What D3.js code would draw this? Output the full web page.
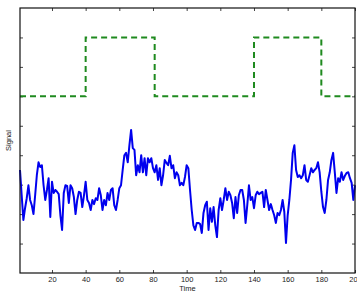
<!DOCTYPE html>
<html>
<head>
<meta charset="utf-8">
<script src="https://cdn.jsdelivr.net/npm/d3@7"></script>
<style>
  body { margin: 0; background: #fff; }
  svg { display: block; font-family: "Liberation Sans", Arial, sans-serif; }
  .tick text { fill: #222; font-size: 7.5px; }
</style>
</head>
<body>
<div id="chart"></div>
<script>
// blue noisy signal, one value per time step (t = 1..200)
var signal = [
  1.75, 1.32, 0.90, 1.10, 1.27, 1.49, 1.24, 1.15, 1.00, 1.32,
  1.66, 1.88, 1.80, 1.83, 1.49, 1.24, 1.41, 1.61, 0.95, 1.55,
  1.36, 1.41, 1.38, 1.34, 0.98, 0.73, 1.36, 1.49, 1.48, 1.19,
  1.49, 1.44, 1.29, 1.00, 1.24, 1.38, 1.36, 1.12, 1.32, 1.55,
  1.24, 1.19, 1.07, 1.24, 1.17, 1.27, 1.24, 1.44, 1.32, 1.07,
  1.24, 1.15, 1.36, 1.24, 1.41, 1.44, 1.15, 1.07, 1.24, 1.44,
  1.49, 1.75, 2.00, 2.04, 1.88, 2.17, 2.43, 2.12, 2.09, 1.66,
  1.83, 1.71, 2.00, 1.71, 1.95, 1.66, 1.95, 1.88, 1.95, 1.78,
  1.71, 1.83, 1.58, 1.78, 1.49, 1.66, 1.92, 1.87, 1.83, 1.99,
  1.78, 1.83, 1.61, 1.71, 1.66, 1.49, 1.53, 1.49, 1.63, 1.83,
  1.78, 1.41, 1.07, 0.81, 0.73, 0.85, 0.85, 0.83, 0.68, 1.02,
  1.15, 1.21, 0.73, 1.10, 0.87, 1.12, 0.81, 0.61, 1.07, 1.27,
  1.07, 1.24, 1.44, 1.24, 1.38, 1.32, 1.19, 0.93, 1.29, 1.02,
  1.32, 1.41, 1.41, 1.24, 0.85, 1.15, 1.49, 1.24, 1.29, 1.10,
  1.32, 1.38, 1.34, 1.36, 1.38, 1.12, 1.41, 1.24, 1.07, 1.17,
  1.07, 0.98, 0.85, 1.02, 0.98, 1.07, 1.24, 1.04, 0.51, 0.98,
  1.24, 1.58, 2.04, 2.17, 1.75, 1.63, 1.66, 1.61, 1.66, 1.83,
  1.58, 1.55, 1.66, 1.78, 1.71, 1.75, 1.78, 1.88, 1.71, 1.38,
  1.12, 1.02, 1.24, 1.58, 1.71, 1.92, 2.04, 1.71, 1.36, 1.61,
  1.55, 1.71, 1.58, 1.65, 1.70, 1.71, 1.61, 1.53, 1.24, 1.49
];

// green dashed step: level starts at each time and holds until the next one
var stepTimes = [1, 40, 81, 140, 180, 200];
var stepLevels = [3, 4, 3, 4, 3, 3];

var xTicks = [20, 40, 60, 80, 100, 120, 140, 160, 180, 200];
var yTicks = [0.5, 1, 1.5, 2, 2.5, 3, 3.5, 4];

var margin = {top: 8, right: 2, bottom: 18, left: 20};
var width = 357 - margin.left - margin.right;
var height = 291 - margin.top - margin.bottom;

var svg = d3.select("#chart").append("svg")
    .attr("width", 357)
    .attr("height", 291);

var g = svg.append("g")
    .attr("transform", "translate(" + margin.left + "," + margin.top + ")");

var x = d3.scaleLinear().domain([1, 200]).range([0, width]);
var y = d3.scaleLinear().domain([0, 4.5]).range([height, 0]);

// axes, ticks pointing inward on all four sides
g.append("g")
    .attr("class", "axis")
    .attr("transform", "translate(0," + height + ")")
    .call(d3.axisBottom(x).tickValues(xTicks).tickSizeInner(-3).tickSizeOuter(0).tickPadding(3.5));

g.append("g")
    .attr("class", "axis")
    .call(d3.axisTop(x).tickValues(xTicks).tickSizeInner(-3).tickSizeOuter(0).tickFormat(""));

g.append("g")
    .attr("class", "axis")
    .call(d3.axisLeft(y).tickValues(yTicks).tickSizeInner(-3).tickSizeOuter(0).tickFormat(""));

g.append("g")
    .attr("class", "axis")
    .attr("transform", "translate(" + width + ",0)")
    .call(d3.axisRight(y).tickValues(yTicks).tickSizeInner(-3).tickSizeOuter(0).tickFormat(""));

g.selectAll(".axis .domain").remove();
g.selectAll(".axis .tick line").attr("stroke", "#444");

// step line
var stepData = stepTimes.map(function(t, i) { return {t: t, v: stepLevels[i]}; });
g.append("path")
    .datum(stepData)
    .attr("fill", "none")
    .attr("stroke", "#1f8a1f")
    .attr("stroke-width", 2)
    .attr("stroke-dasharray", "6,4")
    .attr("d", d3.line()
        .curve(d3.curveStepAfter)
        .x(function(d) { return x(d.t); })
        .y(function(d) { return y(d.v); }));

// signal line
g.append("path")
    .datum(signal)
    .attr("fill", "none")
    .attr("stroke", "#0000ee")
    .attr("stroke-width", 2)
    .attr("stroke-linejoin", "round")
    .attr("d", d3.line()
        .x(function(d, i) { return x(i + 1); })
        .y(function(d) { return y(d); }));

// frame
g.append("rect")
    .attr("width", width)
    .attr("height", height)
    .attr("fill", "none")
    .attr("stroke", "#111")
    .attr("stroke-width", 1.2);

svg.append("text")
    .attr("x", margin.left + width / 2)
    .attr("y", 290.5)
    .attr("text-anchor", "middle")
    .attr("font-size", 7.5)
    .attr("fill", "#222")
    .text("Time");

svg.append("text")
    .attr("transform", "translate(11," + (margin.top + height / 2) + ") rotate(-90)")
    .attr("text-anchor", "middle")
    .attr("font-size", 7.5)
    .attr("fill", "#222")
    .text("Signal");
</script>
</body>
</html>
